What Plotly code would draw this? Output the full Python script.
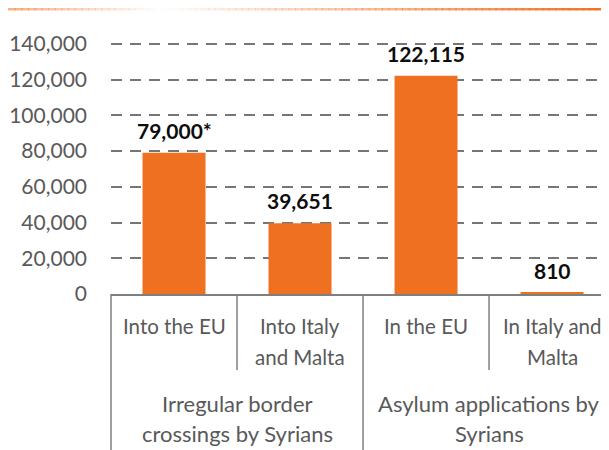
import plotly.graph_objects as go

# ---- data ----
categories = ["Into the EU", "Into Italy and Malta", "In the EU", "In Italy and Malta"]
category_lines = [["Into the EU"], ["Into Italy", "and Malta"], ["In the EU"], ["In Italy and", "Malta"]]
groups = ["Irregular border crossings by Syrians", "Asylum applications by Syrians"]
group_lines = [["Irregular border", "crossings by Syrians"], ["Asylum applications by", "Syrians"]]
group_sizes = [2, 2]
values = [79000, 39651, 122115, 810]
value_labels = ["79,000*", "39,651", "122,115", "810"]
tick_values = [0, 20000, 40000, 60000, 80000, 100000, 120000, 140000]
tick_labels = ["0", "20,000", "40,000", "60,000", "80,000", "100,000", "120,000", "140,000"]

ORANGE = "#F07022"
GRAY_TXT = "#595959"
LINE_GRAY = "#7F7F7F"
FONT = "Lato"

# the page adds an 8px body margin, so the figure is drawn 8px in from the corner
W, H = 601, 442
ML, MR, MT, MB = 103, 0, 34, 156
PLOT_H = H - MT - MB
PLOT_W = W - ML - MR
X_RANGE = [-0.5, 3.452]
Y_RANGE = [0, 141000]
SPAN = X_RANGE[1] - X_RANGE[0]

fig = go.Figure()
fig.add_trace(go.Bar(
    x=categories, y=values, width=0.5,
    marker=dict(color=ORANGE, line=dict(width=0)),
    hoverinfo="skip",
))

annotations = []
# value labels
for c, v, t in zip(categories, values, value_labels):
    annotations.append(dict(
        x=c, y=v, xref="x", yref="y", text="<b>" + t + "</b>", showarrow=False,
        yanchor="bottom", xanchor="center", yshift=8,
        font=dict(family=FONT, size=21, color="#0D0D0D"),
    ))

def below(px):
    return -px  # yshift in pixels below the x axis

# category labels
lvl1_centers = [32, 63]
for i, lines in enumerate(category_lines):
    for j, ln in enumerate(lines):
        annotations.append(dict(
            x=i, y=0, xref="x", yref="paper", text=ln, showarrow=False,
            yanchor="middle", xanchor="center", yshift=below(lvl1_centers[j]),
            font=dict(family=FONT, size=20.5, color=GRAY_TXT),
        ))

# group labels
lvl2_centers = [109, 139]
start = 0
for g, (lines, n) in enumerate(zip(group_lines, group_sizes)):
    center = start + (n - 1) / 2
    for j, ln in enumerate(lines):
        annotations.append(dict(
            x=center, y=0, xref="x", yref="paper", text=ln, showarrow=False,
            yanchor="middle", xanchor="center", yshift=below(lvl2_centers[j]),
            font=dict(family=FONT, size=22, color=GRAY_TXT),
        ))
    start += n

shapes = []
def xpaper(b):
    return (b - X_RANGE[0]) / SPAN

short_end = -76 / PLOT_H
long_end = -MB / PLOT_H
group_bounds = set()
acc = -0.5
group_bounds.add(acc)
for n in group_sizes:
    acc += n
    group_bounds.add(acc)
for k in range(len(categories) + 1):
    b = k - 0.5
    y1 = long_end if b in group_bounds else short_end
    shapes.append(dict(type="line", xref="paper", yref="paper",
                       x0=xpaper(b), x1=xpaper(b), y0=0, y1=y1,
                       line=dict(color=LINE_GRAY, width=1.5), layer="above"))

# decorative gradient rule at the very top
y_top = (MT + PLOT_H - 1.2) / PLOT_H
x_start_px, x_white_px, x_end_px = 0, 152, W
N = 90
for k in range(N):
    p0 = x_start_px + (x_end_px - x_start_px) * k / N
    p1 = x_start_px + (x_end_px - x_start_px) * (k + 1) / N
    pm = (p0 + p1) / 2
    if pm < x_white_px:
        a = 0.55 * (x_white_px - pm) / (x_white_px - x_start_px)
    else:
        a = (pm - x_white_px) / (x_end_px - x_white_px)
    shapes.append(dict(type="line", xref="paper", yref="paper",
                       x0=(p0 - ML) / PLOT_W, x1=(p1 - ML) / PLOT_W + 0.002,
                       y0=y_top, y1=y_top,
                       line=dict(color=f"rgba(240,112,34,{a:.3f})", width=2.5)))

fig.update_layout(
    width=W, height=H,
    margin=dict(l=ML, r=MR, t=MT, b=MB, pad=0),
    paper_bgcolor="white", plot_bgcolor="white",
    showlegend=False, bargap=0.5,
    font=dict(family=FONT, color=GRAY_TXT),
    annotations=annotations, shapes=shapes,
    xaxis=dict(type="category", range=X_RANGE, showticklabels=False, ticks="",
               showgrid=False, zeroline=False, showline=True,
               linecolor=LINE_GRAY, linewidth=1.5, fixedrange=True),
    yaxis=dict(range=Y_RANGE, tickvals=tick_values, ticktext=tick_labels,
               showgrid=True, gridcolor="#767676", gridwidth=1.5, griddash="11px,8px",
               zeroline=False, showline=False, ticks="", ticklabelstandoff=23,
               tickfont=dict(family=FONT, size=21, color=GRAY_TXT), fixedrange=True),
)

fig.write_html("out.html")
